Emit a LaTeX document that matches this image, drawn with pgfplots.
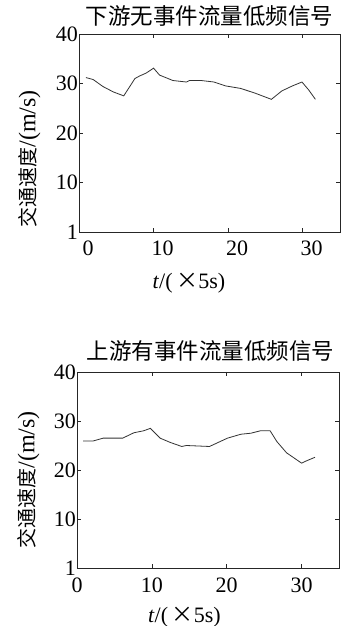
\documentclass[border=0pt]{standalone}
\usepackage{fontspec}
\setmainfont{Liberation Serif}
\newfontfamily\cjk{Noto Sans CJK SC}
\usepackage{pgfplots}
\pgfplotsset{compat=1.18}
\pgfplotsset{
  mystyle/.style={
    scale only axis,
    xmin=0, xmax=35, ymin=0, ymax=40,
    xtick={0,10,20,30},
    ytick={0,10,20,30,40},
    yticklabels={1,10,20,30,40},
    tick align=inside,
    major tick length=4bp,
    tick style={black!85, line width=0.6bp},
    axis line style={black!85, line width=0.9bp},
    /pgf/number format/assume math mode=true,
    tick label style={font=\fontsize{22bp}{26bp}\selectfont},
    yticklabel style={inner xsep=1bp},
    label style={font=\fontsize{22bp}{26bp}\selectfont},
    title style={font=\fontsize{22.5bp}{26bp}\selectfont, anchor=center},
  }
}
\begin{document}
\begin{tikzpicture}
\useasboundingbox (0,0) rectangle (344bp,626bp);
% top
\begin{axis}[mystyle,
  at={(79bp,394bp)}, anchor=south west,
  width=261bp, height=198bp,
  xticklabel style={xshift=9bp, yshift=-5bp},
  title={\cjk 下游无事件流量低频信号},
  title style={at={(axis description cs:0.5,1.06)}},
  xlabel={\textit{t}/(\,{\cjk ×}5s)},
  xlabel style={at={(axis description cs:0.421,-0.258)}, anchor=center},
  ylabel={{\cjk\fontsize{20bp}{24bp}\selectfont 交通速度}{\fontsize{24bp}{28bp}\selectfont/(m/s)}},
  ylabel style={at={(axis description cs:-0.19,0.37)}, anchor=center},
]
\addplot[color=black!80, line width=0.8bp] coordinates {
(0.93,31.2) (1.9,30.8) (3.2,29.4) (4.6,28.3) (6.0,27.5) (7.5,31.0) (8.1,31.5) (9.0,32.1) (10.0,33.1) (10.8,31.7) (12.6,30.6) (14.4,30.3) (14.8,30.6) (16.4,30.6) (18.1,30.3) (19.7,29.5) (21.7,29.0) (23.7,28.0) (25.8,26.8) (27.2,28.5) (28.6,29.5) (29.9,30.3) (30.8,28.7) (31.7,26.8)
};
\end{axis}
% bottom
\begin{axis}[mystyle,
  at={(77bp,58bp)}, anchor=south west,
  width=262bp, height=196bp,
  xticklabel style={yshift=-6bp},
  title={\cjk 上游有事件流量低频信号},
  title style={at={(axis description cs:0.51,1.075)}},
  xlabel={\textit{t}/(\,{\cjk ×}5s)},
  xlabel style={at={(axis description cs:0.41,-0.25)}, anchor=center},
  ylabel={{\cjk\fontsize{20bp}{24bp}\selectfont 交通速度}{\fontsize{24bp}{28bp}\selectfont/(m/s)}},
  ylabel style={at={(axis description cs:-0.185,0.45)}, anchor=center},
]
\addplot[color=black!80, line width=0.8bp] coordinates {
(0.83,25.9) (2.1,25.9) (3.5,26.5) (6.1,26.5) (7.6,27.6) (8.9,28.0) (9.8,28.5) (11.1,26.5) (12.5,25.6) (14.0,24.8) (14.6,25.0) (17.7,24.8) (20.1,26.5) (21.9,27.3) (23.2,27.5) (24.5,28.0) (25.8,28.0) (26.7,25.8) (28.0,23.5) (30.0,21.4) (30.7,21.9) (31.8,22.6)
};
\end{axis}
\end{tikzpicture}
\end{document}
